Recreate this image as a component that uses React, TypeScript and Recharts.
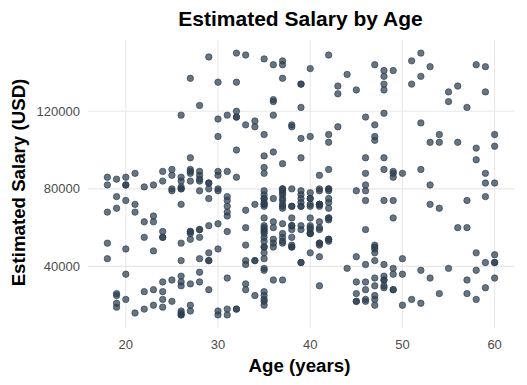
import { ScatterChart, Scatter, XAxis, YAxis, ReferenceLine } from 'recharts';

// age (years) and estimated salary (USD), one entry per person
const ages = [
  19, 35, 26, 27, 19, 27, 27, 32, 25, 35, 26, 26, 20, 32, 18, 29, 47, 45, 46, 48,
  45, 47, 48, 45, 46, 47, 49, 47, 29, 31, 31, 27, 21, 28, 27, 35, 33, 30, 26, 27,
  27, 33, 35, 30, 28, 23, 25, 27, 30, 31, 24, 18, 29, 35, 27, 24, 23, 28, 22, 32,
  27, 25, 23, 32, 59, 24, 24, 23, 22, 31, 25, 24, 20, 33, 32, 34, 18, 22, 28, 26,
  30, 39, 20, 35, 30, 31, 24, 28, 26, 35, 22, 30, 26, 29, 29, 35, 35, 28, 35, 28,
  27, 28, 32, 33, 19, 21, 26, 27, 26, 38, 39, 37, 38, 37, 42, 40, 35, 36, 40, 41,
  36, 37, 40, 35, 41, 39, 42, 26, 30, 26, 31, 33, 30, 21, 28, 23, 20, 30, 28, 19,
  19, 18, 35, 30, 34, 24, 27, 41, 29, 20, 26, 41, 31, 36, 40, 31, 46, 29, 26, 32,
  32, 25, 37, 35, 33, 18, 22, 35, 29, 29, 21, 34, 26, 34, 34, 23, 35, 25, 24, 31,
  26, 31, 32, 33, 33, 31, 20, 33, 35, 28, 24, 19, 29, 19, 28, 34, 30, 20, 26, 35,
  35, 49, 39, 41, 58, 47, 55, 52, 40, 46, 48, 52, 59, 35, 47, 60, 49, 40, 46, 59,
  41, 35, 37, 60, 35, 37, 36, 56, 40, 42, 35, 39, 40, 49, 38, 46, 40, 37, 46, 53,
  42, 38, 50, 56, 41, 51, 35, 57, 41, 35, 44, 37, 48, 37, 50, 52, 41, 40, 58, 45,
  35, 36, 55, 35, 48, 42, 40, 37, 47, 40, 43, 59, 60, 39, 57, 57, 38, 49, 52, 50,
  59, 35, 37, 52, 48, 37, 37, 48, 41, 37, 39, 49, 55, 37, 35, 36, 42, 43, 45, 46,
  58, 48, 37, 37, 40, 42, 51, 47, 36, 38, 42, 39, 38, 49, 39, 39, 54, 35, 45, 36,
  52, 53, 41, 48, 48, 41, 41, 42, 36, 47, 38, 48, 42, 40, 57, 36, 58, 35, 38, 39,
  53, 35, 38, 47, 47, 41, 53, 54, 39, 38, 38, 37, 42, 37, 36, 60, 54, 41, 40, 42,
  43, 53, 47, 42, 42, 59, 58, 46, 38, 54, 60, 60, 39, 59, 37, 46, 46, 42, 41, 58,
  42, 48, 44, 49, 57, 56, 49, 39, 47, 48, 48, 47, 45, 60, 39, 46, 51, 50, 36, 49,
];

const salaries = [
  19000, 20000, 43000, 57000, 76000, 58000, 84000, 150000, 33000, 65000,
  80000, 52000, 86000, 18000, 82000, 80000, 25000, 26000, 28000, 29000,
  22000, 49000, 41000, 22000, 23000, 20000, 28000, 30000, 43000, 18000,
  74000, 137000, 16000, 44000, 90000, 27000, 28000, 49000, 72000, 31000,
  17000, 51000, 108000, 15000, 84000, 20000, 79000, 54000, 135000, 89000,
  32000, 44000, 83000, 23000, 58000, 55000, 48000, 79000, 18000, 117000,
  20000, 87000, 66000, 120000, 83000, 58000, 19000, 82000, 63000, 68000,
  80000, 27000, 23000, 113000, 18000, 112000, 52000, 27000, 87000, 17000,
  80000, 42000, 49000, 88000, 62000, 118000, 55000, 85000, 81000, 50000,
  81000, 116000, 15000, 28000, 83000, 44000, 25000, 123000, 73000, 37000,
  88000, 59000, 86000, 149000, 21000, 72000, 35000, 89000, 86000, 80000,
  71000, 71000, 61000, 55000, 80000, 57000, 75000, 52000, 59000, 59000,
  75000, 72000, 75000, 53000, 51000, 61000, 65000, 32000, 17000, 84000,
  58000, 31000, 87000, 68000, 55000, 63000, 82000, 107000, 59000, 25000,
  85000, 68000, 59000, 89000, 25000, 89000, 96000, 30000, 61000, 74000,
  15000, 45000, 76000, 50000, 47000, 15000, 59000, 75000, 30000, 135000,
  100000, 90000, 33000, 38000, 69000, 86000, 55000, 71000, 148000, 47000,
  88000, 115000, 118000, 43000, 72000, 28000, 47000, 22000, 23000, 34000,
  16000, 71000, 117000, 43000, 60000, 66000, 82000, 41000, 72000, 32000,
  84000, 26000, 43000, 70000, 89000, 43000, 79000, 36000, 80000, 22000,
  39000, 74000, 134000, 71000, 101000, 47000, 130000, 114000, 142000, 22000,
  96000, 150000, 42000, 58000, 43000, 108000, 65000, 78000, 96000, 143000,
  80000, 91000, 144000, 102000, 60000, 53000, 126000, 133000, 72000, 80000,
  147000, 42000, 107000, 86000, 112000, 79000, 57000, 80000, 82000, 143000,
  149000, 59000, 88000, 104000, 72000, 146000, 50000, 122000, 52000, 97000,
  39000, 52000, 134000, 146000, 44000, 90000, 72000, 57000, 95000, 131000,
  77000, 144000, 125000, 72000, 90000, 108000, 75000, 74000, 144000, 61000,
  133000, 76000, 42000, 106000, 26000, 74000, 71000, 88000, 38000, 36000,
  88000, 61000, 70000, 21000, 141000, 93000, 62000, 138000, 79000, 78000,
  134000, 89000, 39000, 77000, 57000, 63000, 73000, 112000, 79000, 117000,
  38000, 74000, 137000, 79000, 60000, 54000, 134000, 113000, 125000, 50000,
  70000, 96000, 50000, 141000, 79000, 75000, 104000, 55000, 32000, 60000,
  138000, 82000, 52000, 30000, 131000, 60000, 72000, 75000, 118000, 107000,
  51000, 119000, 65000, 65000, 60000, 54000, 144000, 79000, 55000, 122000,
  104000, 75000, 65000, 51000, 105000, 63000, 72000, 108000, 77000, 61000,
  113000, 75000, 90000, 57000, 99000, 34000, 70000, 72000, 71000, 54000,
  129000, 34000, 50000, 79000, 104000, 29000, 47000, 88000, 71000, 26000,
  46000, 83000, 73000, 130000, 80000, 32000, 74000, 53000, 87000, 23000,
  64000, 33000, 139000, 28000, 33000, 60000, 39000, 71000, 34000, 35000,
  33000, 23000, 45000, 42000, 59000, 41000, 23000, 20000, 33000, 36000,
];

const ageTicks = [20, 30, 40, 50, 60];
const salaryTicks = [40000, 80000, 120000];

const points = ages.map((age, i) => ({ age, salary: salaries[i] }));

const FONT = '"Liberation Sans", Arial, sans-serif';
const POINT = '#2c3e50';
const GRID = '#e8e8e8';

function Dot(props: any) {
  return (
    <circle
      cx={props.cx}
      cy={props.cy}
      r={3.2}
      fill={POINT}
      fillOpacity={0.72}
      stroke={POINT}
      strokeOpacity={0.72}
      strokeWidth={0.9}
    />
  );
}

export default function App() {
  return (
    <div style={{ position: 'absolute', left: 0, top: 0, width: 527, height: 385, background: '#fff', fontFamily: FONT }}>
      <ScatterChart width={527} height={385} margin={{ top: 40, right: 13, bottom: 0, left: 0 }}>
        <XAxis
          type="number"
          dataKey="age"
          domain={[15.9, 62.1]}
          ticks={ageTicks}
          allowDataOverflow
          axisLine={false}
          tickLine={false}
          tickMargin={6}
          height={57}
          tick={{ fill: '#4d4d4d', fontSize: 13, fontFamily: FONT }}
        />
        <YAxis
          type="number"
          dataKey="salary"
          domain={[8250, 156750]}
          ticks={salaryTicks}
          allowDataOverflow
          axisLine={false}
          tickLine={false}
          width={88}
          tick={{ fill: '#4d4d4d', fontSize: 13, fontFamily: FONT }}
        />
        {ageTicks.map((t) => (
          <ReferenceLine key={'x' + t} x={t} stroke={GRID} strokeWidth={1.1} />
        ))}
        {salaryTicks.map((t) => (
          <ReferenceLine key={'y' + t} y={t} stroke={GRID} strokeWidth={1.1} />
        ))}
        <Scatter data={points} shape={Dot} isAnimationActive={false} />
      </ScatterChart>
      <svg width={527} height={385} style={{ position: 'absolute', left: 0, top: 0, pointerEvents: 'none' }}>
        <text x={300.5} y={26.3} textAnchor="middle" fontWeight="bold" fontSize={21} fontFamily={FONT} fill="#000">
          Estimated Salary by Age
        </text>
        <text x={299.5} y={371.7} textAnchor="middle" fontWeight="bold" fontSize={18.7} fontFamily={FONT} fill="#000">
          Age (years)
        </text>
        <text transform="translate(25,182.5) rotate(-90)" textAnchor="middle" fontWeight="bold" fontSize={18.7} fontFamily={FONT} fill="#000">
          Estimated Salary (USD)
        </text>
      </svg>
    </div>
  );
}
